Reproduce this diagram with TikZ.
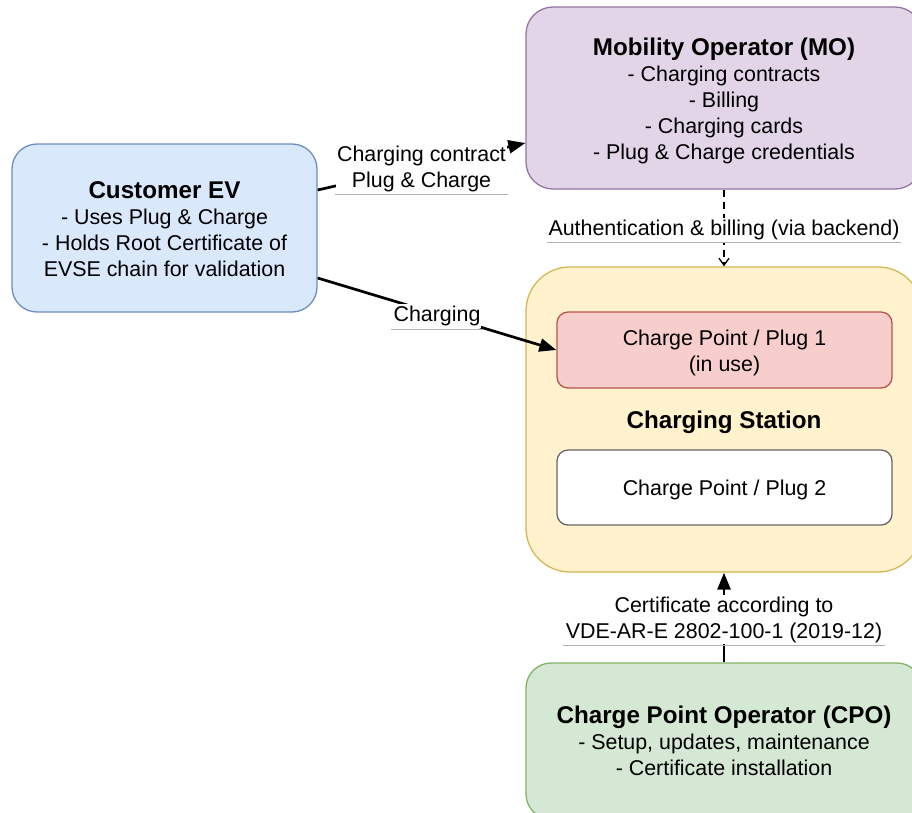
\documentclass[tikz,border=0pt]{standalone}
\usepackage{fontspec}
\setmainfont{Liberation Sans}
\usetikzlibrary{arrows.meta}
\definecolor{evfill}{HTML}{DAE8FC}\definecolor{evline}{HTML}{6C8EBF}
\definecolor{mofill}{HTML}{E1D5E7}\definecolor{moline}{HTML}{9673A6}
\definecolor{csfill}{HTML}{FFF2CC}\definecolor{csline}{HTML}{D6B656}
\definecolor{p1fill}{HTML}{F8CECC}\definecolor{p1line}{HTML}{B85450}
\definecolor{cpofill}{HTML}{D5E8D4}\definecolor{cpoline}{HTML}{82B366}
\definecolor{p2line}{HTML}{666666}
\definecolor{ulcol}{HTML}{B3B3B3}
\newcommand\myBody{\fontsize{21.4}{26}\selectfont}
\newcommand\myTitle{\fontsize{24.2}{27}\selectfont\bfseries}
\newcommand\myDn[2]{\raisebox{0pt}[\dimexpr\height+#1\relax]{#2}}
\begin{document}
\begin{tikzpicture}[x=1pt,y=-1pt,
  box/.style={draw, line width=1.3pt, align=center, inner sep=0pt, font=\myBody},
  lbl/.style={fill=white, font=\myBody, align=center, inner xsep=1pt, inner ysep=2pt, yshift=-2pt},
  conn/.style={line width=2.7pt, -{Triangle[length=17pt,width=13pt]}},
  dconn/.style={line width=1.3pt, dash pattern=on 7pt off 5pt, -{Straight Barb[length=7pt,width=10pt,line width=1.3pt]}},
  uline/.style={draw=ulcol, line width=0.9pt}]
\useasboundingbox (0,0) rectangle (912,812);
\clip (0,0) rectangle (912,812);
\node[box, fill=evfill, draw=evline, rounded corners=25pt, minimum width=305pt, minimum height=168pt] (ev) at (164.5,228)
  {\myDn{2pt}{\myTitle Customer EV}\\- Uses Plug \& Charge\\- Holds Root Certificate of\\EVSE chain for validation};
\node[box, fill=mofill, draw=moline, rounded corners=27pt, minimum width=396pt, minimum height=182pt] (mo) at (724,98)
  {\myDn{6pt}{\myTitle Mobility Operator (MO)}\\- Charging contracts\\- Billing\\- Charging cards\\- Plug \& Charge credentials};
\node[box, fill=csfill, draw=csline, rounded corners=44pt, minimum width=396pt, minimum height=305pt, font=\myTitle] (cs) at (724,419.5)
  {\myDn{6pt}{Charging Station}};
\node[box, fill=p1fill, draw=p1line, rounded corners=11pt, minimum width=335pt, minimum height=76pt] (p1) at (724.5,350)
  {\myDn{6pt}{Charge Point / Plug 1}\\(in use)};
\node[box, fill=white, draw=p2line, rounded corners=11pt, minimum width=335pt, minimum height=75pt] (p2) at (724.5,487.5)
  {\myDn{4pt}{Charge Point / Plug 2}};
\node[box, fill=cpofill, draw=cpoline, rounded corners=25pt, minimum width=396pt, minimum height=156pt] (cpo) at (724,741)
  {{\myTitle Charge Point Operator (CPO)}\\- Setup, updates, maintenance\\- Certificate installation};
\draw[conn] ([yshift=38pt]ev.east) -- node[lbl] (l1) {Charging contract\\Plug \& Charge} ([yshift=-45pt]mo.west);
\draw[uline] (l1.south west) -- (l1.south east);
\draw[conn] ([yshift=-50pt]ev.east) -- node[lbl] (l2) {Charging} (p1.west);
\draw[uline] (l2.south west) -- (l2.south east);
\draw[dconn] (mo.south) -- node[lbl] (l3) {Authentication \& billing (via backend)} (cs.north);
\draw[uline] (l3.south west) -- (l3.south east);
\draw[conn] (cpo.north) -- node[lbl] (l4) {Certificate according to\\VDE-AR-E 2802-100-1 (2019-12)} (cs.south);
\draw[uline] (l4.south west) -- (l4.south east);
\end{tikzpicture}
\end{document}
